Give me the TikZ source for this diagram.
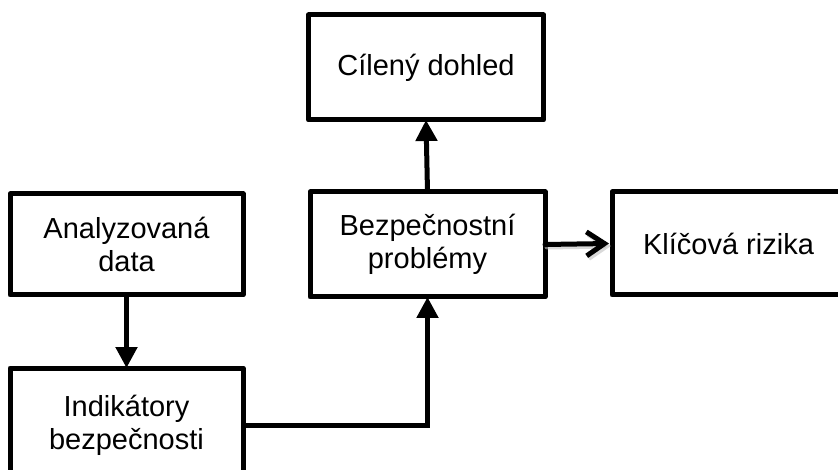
\documentclass[tikz,border=0pt]{standalone}
\usepackage{fontspec}
\setmainfont{Liberation Sans}
\usetikzlibrary{arrows.meta,calc}
\begin{document}
\begin{tikzpicture}[x=1pt,y=-1pt,
  box/.style={draw,line width=5pt,line join=round,fill=white,align=center,
    inner sep=0pt,outer sep=0pt,font=\fontsize{29}{33}\selectfont},
  conn/.style={line width=5pt,-{Triangle[width=21pt,length=21pt]}},
  openconn/.style={line width=5pt,line cap=round,-{Straight Barb[length=18pt,width=24pt,line width=5pt]}}]
\useasboundingbox (0,0) rectangle (838,470);
\clip (0,0) rectangle (838,470);
\node[box,minimum width=235pt,minimum height=105pt] (cil) at (426,67.5) {Cílený dohled};
\node[box,minimum width=233pt,minimum height=101pt] (ana) at (126.5,244.5) {Analyzovaná\\data};
\node[box,minimum width=235pt,minimum height=105pt] (bez) at (427.5,244.5) {Bezpečnostní\\problémy};
\node[box,minimum width=233pt,minimum height=103pt] (kli) at (728.5,243.5) {Klíčová rizika};
\node[box,minimum width=233pt,minimum height=114pt] (ind) at (126.5,425) {Indikátory\\bezpečnosti};
\draw[conn] (ana.south) -- (ind.north);
\draw[conn] (bez.north) -- (cil.south);
\draw[conn] ($(ind.east)+(3,0)$) -| (bez.south);
\draw[openconn,draw=black!25,opacity=0.6] ($(bez.east)+(2,2.5)$) -- ($(kli.west)+(-1,2.5)$);
\draw[openconn] (bez.east) -- ($(kli.west)+(-3,0)$);
\end{tikzpicture}
\end{document}
